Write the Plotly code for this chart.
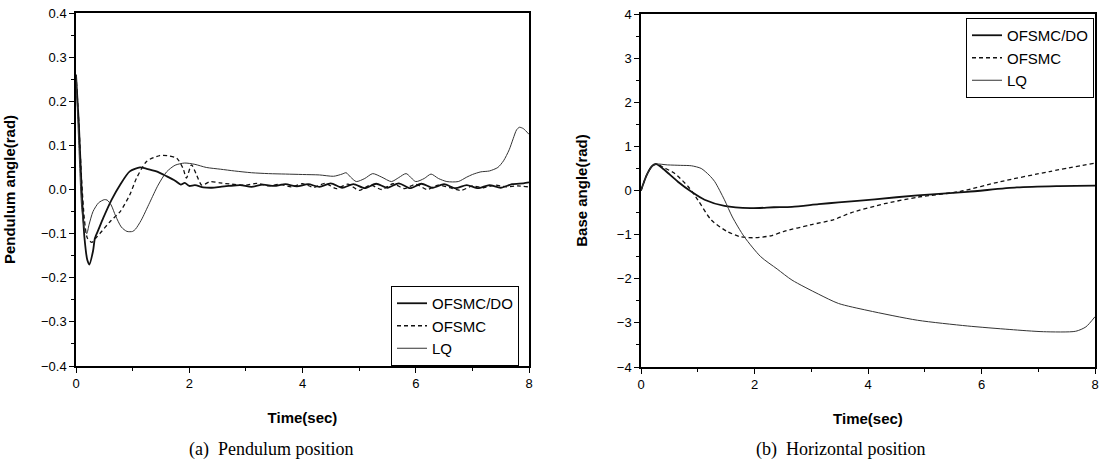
import plotly.graph_objects as go

W, H = 1102, 461

# ---------------- (a) Pendulum position ----------------
t_pend_dob = [0, 0.05, 0.1, 0.15, 0.2, 0.235, 0.3, 0.335, 0.4, 0.48, 0.63, 0.78, 0.95, 1.13,
              1.25, 1.42, 1.6, 1.75, 1.85, 1.92, 2.0, 2.1, 2.25, 2.4, 2.55, 2.7, 2.9, 3.1,
              3.3, 3.5, 3.7, 3.9, 4.1, 4.3, 4.5, 4.7, 4.9, 5.1, 5.3, 5.5, 5.7, 5.9, 6.1,
              6.3, 6.5, 6.7, 6.9, 7.1, 7.3, 7.5, 7.7, 7.9, 8.0]
v_pend_dob = [0.26, 0.15, 0.0, -0.11, -0.16, -0.17, -0.14, -0.11, -0.09, -0.065, -0.023,
              0.011, 0.041, 0.05, 0.047, 0.041, 0.03, 0.02, 0.011, 0.015, 0.008, 0.01,
              0.005, 0.004, 0.006, 0.008, 0.01, 0.006, 0.011, 0.008, 0.012, 0.007, 0.012,
              0.006, 0.014, 0.004, 0.012, 0.003, 0.013, 0.004, 0.014, 0.003, 0.013, 0.004,
              0.012, 0.003, 0.01, 0.003, 0.01, 0.004, 0.012, 0.014, 0.016]

t_pend_smc = [0, 0.05, 0.1, 0.15, 0.2, 0.28, 0.35, 0.42, 0.6, 0.78, 0.95, 1.07, 1.25, 1.48,
              1.65, 1.78, 1.89, 1.95, 2.04, 2.13, 2.22, 2.37, 2.54, 2.75, 3.0, 3.2, 3.4,
              3.6, 3.8, 4.0, 4.2, 4.4, 4.6, 4.8, 5.0, 5.2, 5.4, 5.6, 5.8, 6.0, 6.2, 6.4,
              6.6, 6.8, 7.0, 7.2, 7.4, 7.6, 7.8, 8.0]
v_pend_smc = [0.26, 0.15, 0.02, -0.07, -0.11, -0.12, -0.11, -0.1, -0.073, -0.05, -0.012,
              0.026, 0.064, 0.077, 0.076, 0.071, 0.048, 0.026, 0.056, 0.033, 0.01, 0.018,
              0.015, 0.012, 0.01, 0.014, 0.008, 0.012, 0.006, 0.013, 0.005, 0.014, 0.002,
              0.012, -0.002, 0.01, 0.0, 0.013, 0.002, 0.012, 0.0, 0.01, 0.004, -0.002,
              0.008, 0.004, 0.01, 0.006, 0.008, 0.006]

t_pend_lq = [0, 0.05, 0.1, 0.15, 0.19, 0.23, 0.3, 0.4, 0.5, 0.55, 0.62, 0.7, 0.8, 0.9, 1.0,
             1.05, 1.15, 1.3, 1.45, 1.6, 1.75, 1.92, 2.1, 2.3, 2.55, 2.8, 3.1, 3.4, 3.7,
             4.0, 4.3, 4.55, 4.7, 4.77, 4.85, 4.95, 5.1, 5.24, 5.4, 5.57, 5.7, 5.83, 6.0,
             6.15, 6.27, 6.4, 6.55, 6.75, 6.9, 7.0, 7.15, 7.3, 7.45, 7.55, 7.65, 7.72,
             7.78, 7.83, 7.9, 8.0]
v_pend_lq = [0.26, 0.1, -0.04, -0.09, -0.1, -0.08, -0.05, -0.03, -0.023, -0.024, -0.035,
             -0.06, -0.085, -0.095, -0.095, -0.09, -0.07, -0.03, 0.01, 0.04, 0.055, 0.06,
             0.057, 0.05, 0.046, 0.042, 0.038, 0.036, 0.035, 0.034, 0.033, 0.03, 0.035,
             0.038, 0.028, 0.018, 0.025, 0.036, 0.028, 0.018, 0.027, 0.036, 0.018, 0.025,
             0.035, 0.025, 0.018, 0.018, 0.028, 0.034, 0.04, 0.042, 0.05, 0.065, 0.09,
             0.115, 0.135, 0.141, 0.138, 0.125]

# ---------------- (b) Horizontal position ----------------
t_base_dob = [0, 0.1, 0.2, 0.27, 0.4, 0.48, 0.65, 0.89, 1.12, 1.47, 1.93, 2.34, 2.66, 3.13,
              3.48, 4.12, 4.87, 5.75, 6.62, 7.32, 8.0]
v_base_dob = [0, 0.35, 0.56, 0.6, 0.48, 0.39, 0.2, -0.03, -0.21, -0.35, -0.4, -0.38, -0.37,
              -0.31, -0.27, -0.2, -0.11, -0.03, 0.07, 0.1, 0.11]

t_base_smc = [0, 0.1, 0.2, 0.27, 0.4, 0.59, 0.83, 1.0, 1.24, 1.52, 1.76, 2.02, 2.31, 2.51,
              2.98, 3.4, 3.71, 4.29, 4.88, 5.63, 6.33, 7.2, 8.0]
v_base_smc = [0, 0.35, 0.56, 0.6, 0.52, 0.39, 0.09, -0.21, -0.67, -0.93, -1.05, -1.07, -1.02,
              -0.93, -0.78, -0.66, -0.5, -0.3, -0.15, -0.02, 0.2, 0.43, 0.62]

t_base_lq = [0, 0.1, 0.2, 0.27, 0.47, 0.7, 0.89, 1.06, 1.2, 1.3, 1.47, 1.61, 1.82, 2.11, 2.4,
             2.66, 3.13, 3.48, 4.0, 4.87, 5.75, 6.5, 7.09, 7.66, 7.84, 8.0]
v_base_lq = [0, 0.35, 0.56, 0.6, 0.58, 0.57, 0.56, 0.5, 0.35, 0.2, -0.21, -0.6, -1.05, -1.5,
             -1.78, -2.03, -2.35, -2.56, -2.72, -2.94, -3.07, -3.15, -3.2, -3.19, -3.09, -2.86]

series_names = ["OFSMC/DO", "OFSMC", "LQ"]
x_ticks = [0, 2, 4, 6, 8]

SANS = "Liberation Sans, Arial, sans-serif"
SERIF = "Liberation Serif, Times New Roman, serif"

styles = [dict(color="#111", width=1.8, dash="solid", shape="spline", smoothing=0.7),
          dict(color="#111", width=1.3, dash="4px,3px", shape="spline", smoothing=0.7),
          dict(color="#333", width=1.0, dash="solid", shape="spline", smoothing=0.7)]

fig = go.Figure()
left = [(t_pend_dob, v_pend_dob), (t_pend_smc, v_pend_smc), (t_pend_lq, v_pend_lq)]
right = [(t_base_dob, v_base_dob), (t_base_smc, v_base_smc), (t_base_lq, v_base_lq)]
for (tx, vy), name, st in zip(left, series_names, styles):
    fig.add_trace(go.Scatter(x=tx, y=vy, mode="lines", name=name, line=st,
                             xaxis="x", yaxis="y", legend="legend"))
for (tx, vy), name, st in zip(right, series_names, styles):
    fig.add_trace(go.Scatter(x=tx, y=vy, mode="lines", name=name, line=st,
                             xaxis="x2", yaxis="y2", legend="legend2"))

def px_x(p):
    return p / W

def px_y(p):
    return 1 - p / H

axis_common = dict(showline=True, linecolor="black", linewidth=1.5, mirror=True,
                   ticks="outside", ticklen=5, tickwidth=1.2, tickcolor="black",
                   showgrid=False, zeroline=False, automargin=False,
                   tickfont=dict(family=SANS, size=13, color="black"),
                   minor=dict(ticks="outside", ticklen=3, tickcolor="black", tickwidth=1,
                              showgrid=False))

fig.update_layout(
    width=W, height=H,
    margin=dict(l=0, r=0, t=0, b=0),
    paper_bgcolor="white", plot_bgcolor="white",
    xaxis=dict(domain=[px_x(76), px_x(529)], range=[0, 8], tickvals=x_ticks,
               title=dict(text="<b>Time(sec)</b>", font=dict(family=SANS, size=15, color="black"),
                          standoff=22),
               **{**axis_common, "minor": {**axis_common["minor"], "dtick": 1}}),
    yaxis=dict(domain=[px_y(366), px_y(13)], range=[-0.4, 0.4], dtick=0.1, tickformat=".1f",
               title=dict(text="<b>Pendulum angle(rad)</b>", font=dict(family=SANS, size=15, color="black"),
                          standoff=22),
               **{**axis_common, "minor": {**axis_common["minor"], "dtick": 0.05}}),
    xaxis2=dict(domain=[px_x(641), px_x(1095)], range=[0, 8], tickvals=x_ticks, anchor="y2",
                title=dict(text="<b>Time(sec)</b>", font=dict(family=SANS, size=15, color="black"),
                           standoff=22),
                **{**axis_common, "minor": {**axis_common["minor"], "dtick": 1}}),
    yaxis2=dict(domain=[px_y(367), px_y(14)], range=[-4, 4], dtick=1, anchor="x2",
                title=dict(text="<b>Base angle(rad)</b>", font=dict(family=SANS, size=15, color="black"),
                           standoff=26),
                **{**axis_common, "minor": {**axis_common["minor"], "dtick": 0.5}}),
    legend=dict(x=px_x(519), y=px_y(366), xanchor="right", yanchor="bottom",
                bordercolor="black", borderwidth=1, bgcolor="white",
                font=dict(family=SANS, size=15, color="black"), tracegroupgap=0),
    legend2=dict(x=px_x(1094), y=px_y(18), xanchor="right", yanchor="top",
                 bordercolor="black", borderwidth=1, bgcolor="white",
                 font=dict(family=SANS, size=15, color="black"), tracegroupgap=0),
    showlegend=True,
)

fig.add_annotation(text="(a)  Pendulum position", x=px_x(271), y=px_y(449), xref="paper", yref="paper",
                   showarrow=False, xanchor="center", yanchor="middle",
                   font=dict(family=SERIF, size=18, color="black"))
fig.add_annotation(text="(b)  Horizontal position", x=px_x(840), y=px_y(449), xref="paper", yref="paper",
                   showarrow=False, xanchor="center", yanchor="middle",
                   font=dict(family=SERIF, size=18, color="black"))

fig.write_html("out.html", config={"displayModeBar": False},
               post_script="document.body.style.margin='0';")
